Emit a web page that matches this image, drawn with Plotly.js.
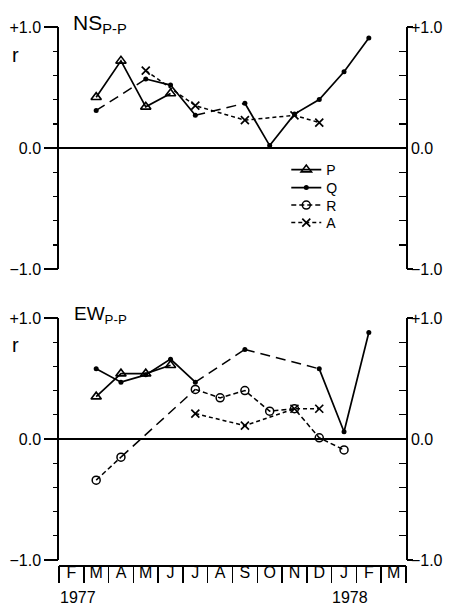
<!DOCTYPE html>
<html>
<head>
<meta charset="utf-8">
<script src="https://cdn.plot.ly/plotly-3.0.1.min.js"></script>
<style>html,body{margin:0;padding:0;background:#fff;}#chart{width:451px;height:607px;}</style>
</head>
<body>
<div id="chart"></div>
<script>
// ---- data (month index 0 = Feb 1977 ... 13 = Mar 1978) ----
const months = ['F','M','A','M','J','J','A','S','O','N','D','J','F','M'];
const monthIdx = months.map((m, i) => i);
const yearLabels = ['1977', '1978'];

// NS p-p panel
const nsP = [null, 0.42, 0.72, 0.34, 0.45, null, null, null, null, null, null, null, null, null];
const nsQ = [null, 0.31, null, 0.57, 0.52, 0.27, null, 0.37, 0.02, 0.28, 0.40, 0.63, 0.91, null];
const nsA = [null, null, null, 0.64, null, 0.35, null, 0.23, null, 0.27, 0.21, null, null, null];

// EW p-p panel
const ewP = [null, 0.35, 0.54, 0.54, 0.61, null, null, null, null, null, null, null, null, null];
const ewQ = [null, 0.58, 0.47, 0.53, 0.66, 0.47, null, 0.74, null, null, 0.58, 0.06, 0.88, null];
const ewR = [null, -0.34, -0.15, null, null, 0.41, 0.34, 0.40, 0.23, 0.25, 0.01, -0.09, null, null];
const ewA = [null, null, null, null, null, 0.21, null, 0.11, null, 0.25, 0.25, null, null, null];

// axis ticks
const yTicks = [-1, -0.8, -0.6, -0.4, -0.2, 0, 0.2, 0.4, 0.6, 0.8, 1];
const yTickText = ['\u22121.0', '', '', '', '', '0.0', '', '', '', '', '+1.0'];
const yMajor = [-1, 0, 1];
const yMajorText = ['\u22121.0', '0.0', '+1.0'];
const separators = [-0.5, 0.5, 1.5, 2.5, 3.5, 4.5, 5.5, 6.5, 7.5, 8.5, 9.5, 10.5, 11.5, 12.5, 13.5];

// ---- helpers ----
const FONT = 'Liberation Sans, Arial, sans-serif';
const LW = 1.7;
const LONG = '10px,6px';
const styles = {
  P: {line: {color: '#000', width: LW, dash: 'solid'}, marker: {symbol: 'triangle-up-open', size: 9, color: '#000', line: {width: 1.6, color: '#000'}}},
  Q: {line: {color: '#000', width: LW, dash: 'solid'}, marker: {symbol: 'circle', size: 5, color: '#000'}},
  R: {line: {color: '#000', width: 1.5, dash: '5px,3px'}, marker: {symbol: 'circle-open', size: 8, color: '#000', line: {width: 1.5, color: '#000'}}},
  A: {line: {color: '#000', width: 1.5, dash: '4px,3px'}, marker: {symbol: 'x-thin-open', size: 8, color: '#000', line: {width: 1.7, color: '#000'}}}
};
const legendIds = {P: 'legend', Q: 'legend2', R: 'legend3', A: 'legend4'};

function gapSegments(arr) {
  const xs = [], ys = [];
  let prev = -1;
  arr.forEach((v, i) => {
    if (v !== null) {
      if (prev >= 0 && i - prev > 1) { xs.push(prev, i, null); ys.push(arr[prev], v, null); }
      prev = i;
    }
  });
  return {xs, ys};
}

function series(name, arr, xa, ya, legend, bridge) {
  const out = [];
  const st = styles[name];
  out.push({
    type: 'scatter', mode: 'lines+markers', name: name,
    x: monthIdx, y: arr, xaxis: xa, yaxis: ya,
    connectgaps: bridge === 'same',
    line: st.line, marker: st.marker, showlegend: legend, legend: legendIds[name], cliponaxis: false
  });
  if (bridge === 'long') {
    const g = gapSegments(arr);
    if (g.xs.length) {
      out.push({
        type: 'scatter', mode: 'lines', x: g.xs, y: g.ys, xaxis: xa, yaxis: ya,
        line: {color: '#000', width: 1.5, dash: LONG}, showlegend: false, hoverinfo: 'skip'
      });
    }
  }
  return out;
}
// invisible carrier so that decoration-only axes get drawn
function carrier(xa, ya) {
  return {type: 'scatter', mode: 'markers', x: [null], y: [null], xaxis: xa, yaxis: ya,
          showlegend: false, hoverinfo: 'skip', marker: {opacity: 0}};
}

const traces = [].concat(
  series('P', nsP, 'x', 'y', false, 'long'),
  series('Q', nsQ, 'x', 'y', false, 'long'),
  series('A', nsA, 'x', 'y', false, 'same'),
  series('P', ewP, 'x2', 'y4', true, 'long'),
  series('Q', ewQ, 'x2', 'y4', true, 'long'),
  series('R', ewR, 'x2', 'y4', true, 'long'),
  series('A', ewA, 'x2', 'y4', true, 'same'),
  [carrier('x', 'y2'), carrier('x', 'y3'), carrier('x', 'y7'),
   carrier('x2', 'y5'), carrier('x2', 'y6'), carrier('x2', 'y8'),
   carrier('x3', 'y4'), carrier('x4', 'y4')]
);

const H = 607;
const px = v => 1 - v / H;
const topDom = [px(269), px(27)];
const botDom = [px(560), px(318)];
const xr = [-0.5, 13.5];

function leftAxis(dom) {
  return {
    domain: dom, range: [-1, 1], showline: true, linecolor: '#000', linewidth: 1.7,
    ticks: 'outside', tickvals: yMajor, ticktext: yMajorText, ticklen: 13, tickwidth: 1.5, tickcolor: '#000',
    showgrid: false, zeroline: true, zerolinecolor: '#000', zerolinewidth: 2,
    tickfont: {family: FONT, size: 16, color: '#000'}, fixedrange: true
  };
}
function leftMinor(base, xa) {
  return {
    overlaying: base, anchor: xa, side: 'left', range: [-1, 1], showline: false,
    ticks: 'outside', tickvals: yTicks, ticklen: 5, tickwidth: 1.4, tickcolor: '#000',
    showticklabels: false, showgrid: false, zeroline: false
  };
}
function rightAxis(base, xa) {
  return {
    overlaying: base, anchor: xa, side: 'right', range: [-1, 1], showline: true, linecolor: '#000', linewidth: 1.7,
    ticks: 'inside', tickvals: yTicks, ticktext: yTickText, ticklen: 7, tickwidth: 1.4, tickcolor: '#000',
    showgrid: false, zeroline: false, tickfont: {family: FONT, size: 16, color: '#000'}
  };
}
function rightBits(base, xa) {
  return {
    overlaying: base, anchor: xa, side: 'right', range: [-1, 1], showline: false,
    ticks: 'outside', tickvals: [-1, 1], ticklen: 6, tickwidth: 1.4, tickcolor: '#000',
    showticklabels: false, showgrid: false, zeroline: false
  };
}
function legendAt(rowPx) {
  return {
    x: 0.655, y: px(rowPx), xanchor: 'left', yanchor: 'middle', yref: 'paper', xref: 'paper',
    font: {family: FONT, size: 14, color: '#000'}, bgcolor: 'rgba(0,0,0,0)', itemwidth: 30
  };
}

const layout = {
  width: 451, height: 607,
  margin: {l: 59, r: 45, t: 0, b: 0, pad: 0},
  paper_bgcolor: '#fff', plot_bgcolor: 'rgba(0,0,0,0)',
  font: {family: FONT, color: '#000'},
  showlegend: true,
  legend: legendAt(170),
  legend2: legendAt(188),
  legend3: legendAt(205.5),
  legend4: legendAt(223),
  xaxis: {domain: [0, 1], range: xr, anchor: 'y', visible: false, fixedrange: true},
  yaxis: leftAxis(topDom),
  yaxis2: rightAxis('y', 'x'),
  yaxis3: rightBits('y', 'x'),
  yaxis7: leftMinor('y', 'x'),
  xaxis2: {domain: [0, 1], range: xr, anchor: 'y4', visible: false, fixedrange: true},
  xaxis3: {
    overlaying: 'x2', anchor: 'free', position: px(565), range: xr, showline: true, linecolor: '#000', linewidth: 1.7,
    tickvals: monthIdx, ticktext: months, ticks: '', showgrid: false, zeroline: false,
    ticklabelstandoff: -8,
    tickfont: {family: FONT, size: 16, color: '#000'}
  },
  xaxis4: {
    overlaying: 'x2', anchor: 'free', position: px(565), range: xr, showline: false,
    tickvals: separators, ticks: 'outside', ticklen: 17, tickwidth: 1.5, tickcolor: '#000',
    showticklabels: false, showgrid: false, zeroline: false
  },
  yaxis4: leftAxis(botDom),
  yaxis5: rightAxis('y4', 'x2'),
  yaxis6: rightBits('y4', 'x2'),
  yaxis8: leftMinor('y4', 'x2'),
  annotations: [
    {xref: 'paper', yref: 'paper', x: (71 - 59) / 347, y: px(24), xanchor: 'left', yanchor: 'middle', showarrow: false,
     text: 'NS<sub>P-P</sub>', font: {family: FONT, size: 21, color: '#000'}},
    {xref: 'paper', yref: 'paper', x: (72 - 59) / 347, y: px(315), xanchor: 'left', yanchor: 'middle', showarrow: false,
     text: 'EW<sub>P-P</sub>', font: {family: FONT, size: 19, color: '#000'}},
    {xref: 'paper', yref: 'paper', x: (15 - 59) / 347, y: px(55), xanchor: 'center', yanchor: 'middle', showarrow: false,
     text: 'r', font: {family: FONT, size: 20, color: '#000'}},
    {xref: 'paper', yref: 'paper', x: (15 - 59) / 347, y: px(345), xanchor: 'center', yanchor: 'middle', showarrow: false,
     text: 'r', font: {family: FONT, size: 20, color: '#000'}},
    {xref: 'x2', yref: 'paper', x: 0.27, y: px(597), xanchor: 'center', yanchor: 'middle', showarrow: false,
     text: yearLabels[0], font: {family: FONT, size: 16, color: '#000'}},
    {xref: 'x2', yref: 'paper', x: 11.23, y: px(597), xanchor: 'center', yanchor: 'middle', showarrow: false,
     text: yearLabels[1], font: {family: FONT, size: 16, color: '#000'}}
  ]
};

Plotly.newPlot('chart', traces, layout, {staticPlot: true, displayModeBar: false});
</script>
</body>
</html>
